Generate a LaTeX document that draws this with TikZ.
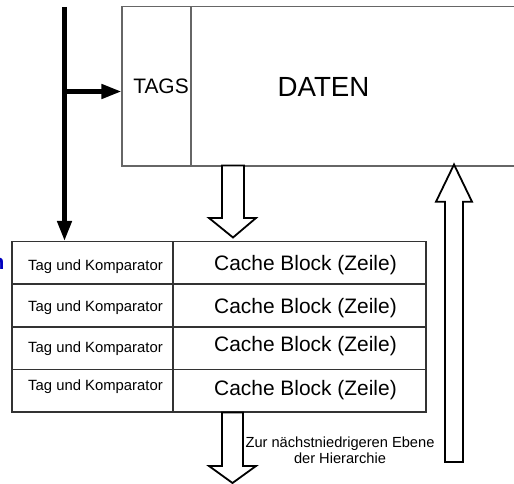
\documentclass[tikz,border=0pt]{standalone}
\usepackage{fontspec}
\setmainfont{Liberation Sans}
\usetikzlibrary{arrows.meta}
\begin{document}
\begin{tikzpicture}[x=1bp,y=-1bp,
  boxline/.style={draw=black!60, line width=1.1bp, rectangle, inner sep=0pt},
  cell/.style={draw=black!80, line width=1.5bp, rectangle, inner sep=0pt},
  hollow/.style={draw=black, line width=1.8bp, fill=white, line join=miter},
  bigarrow/.style={line width=4.5bp, -{Triangle[length=20bp,width=14bp]}},
  tagtext/.style={font=\fontsize{14.9}{17}\selectfont, anchor=base, inner sep=0pt},
  blocktext/.style={font=\fontsize{21}{24}\selectfont, anchor=base, inner sep=0pt},
]
\useasboundingbox (0,0) rectangle (514,484);
\clip (0,0) rectangle (514,484);

% upper cache (tags + data)
\node[boxline, minimum width=69bp, minimum height=159.5bp] (tags) at (156.5,86.25) {};
\node[boxline, minimum width=369bp, minimum height=159.5bp] (daten) at (375.5,86.25) {};
\node[font=\fontsize{21}{25}\selectfont, anchor=base, inner sep=0pt] (tagslbl) at (161,94) {TAGS};
\node[font=\fontsize{27.8}{32}\selectfont, anchor=base, inner sep=0pt] (datenlbl) at (323.5,97) {DATEN};

% table rows
\foreach \i/\yc in {1/263, 2/305.5, 3/348, 4/390.6} {
  \node[cell, minimum width=161bp, minimum height=42.6bp] (tag\i) at (92.5,\yc) {};
  \node[cell, minimum width=253bp, minimum height=42.6bp] (blk\i) at (299.5,\yc) {};
}
\foreach \i/\yb in {1/270, 2/311.5, 3/352.5, 4/390.5} {
  \node[tagtext] (tagl\i) at (95.5,\yb) {Tag und Komparator};
}
\foreach \i/\yb in {1/270.5, 2/313, 3/351.5, 4/395.5} {
  \node[blocktext] (blkl\i) at (305.5,\yb) {Cache Block (Zeile)};
}

% clipped blue fragment at the left edge
\node[text=blue!75!black, font=\bfseries\fontsize{21}{25}\selectfont, anchor=base east, inner sep=0pt] (frag) at (4.5,269.5) {n};

% thick black arrows
\coordinate (src) at (64.5,7);
\coordinate (branch) at (64.5,91.5);
\draw[bigarrow] (src) -- (src |- tag1.north);
\draw[bigarrow] (branch) -- (tags.west |- branch);

% hollow arrows
\coordinate (a1) at (233,165.5);
\draw[hollow] (a1) ++(-11,0) -- ++(0,52.5) -- ++(-13,0) -- (233,237.5) -- (256,218) -- (244,218) -- (244,165.5) -- cycle;
\coordinate (a2) at (232.5,412.5);
\draw[hollow] (a2) ++(-10.5,0) -- (222,466) -- (209,466) -- (232.5,483) -- (256,466) -- (243,466) -- (243,412.5) -- cycle;
\coordinate (a3) at (454,462);
\draw[hollow] (445,462) -- (445,201.7) -- (436,201.7) -- (454,164.5) -- (472,201.7) -- (463,201.7) -- (463,462) -- cycle;

\node[font=\fontsize{14.7}{16}\selectfont, align=center, inner sep=0pt, anchor=north] (down) at (340,437) {Zur nächstniedrigeren Ebene\\der Hierarchie};
\end{tikzpicture}
\end{document}
